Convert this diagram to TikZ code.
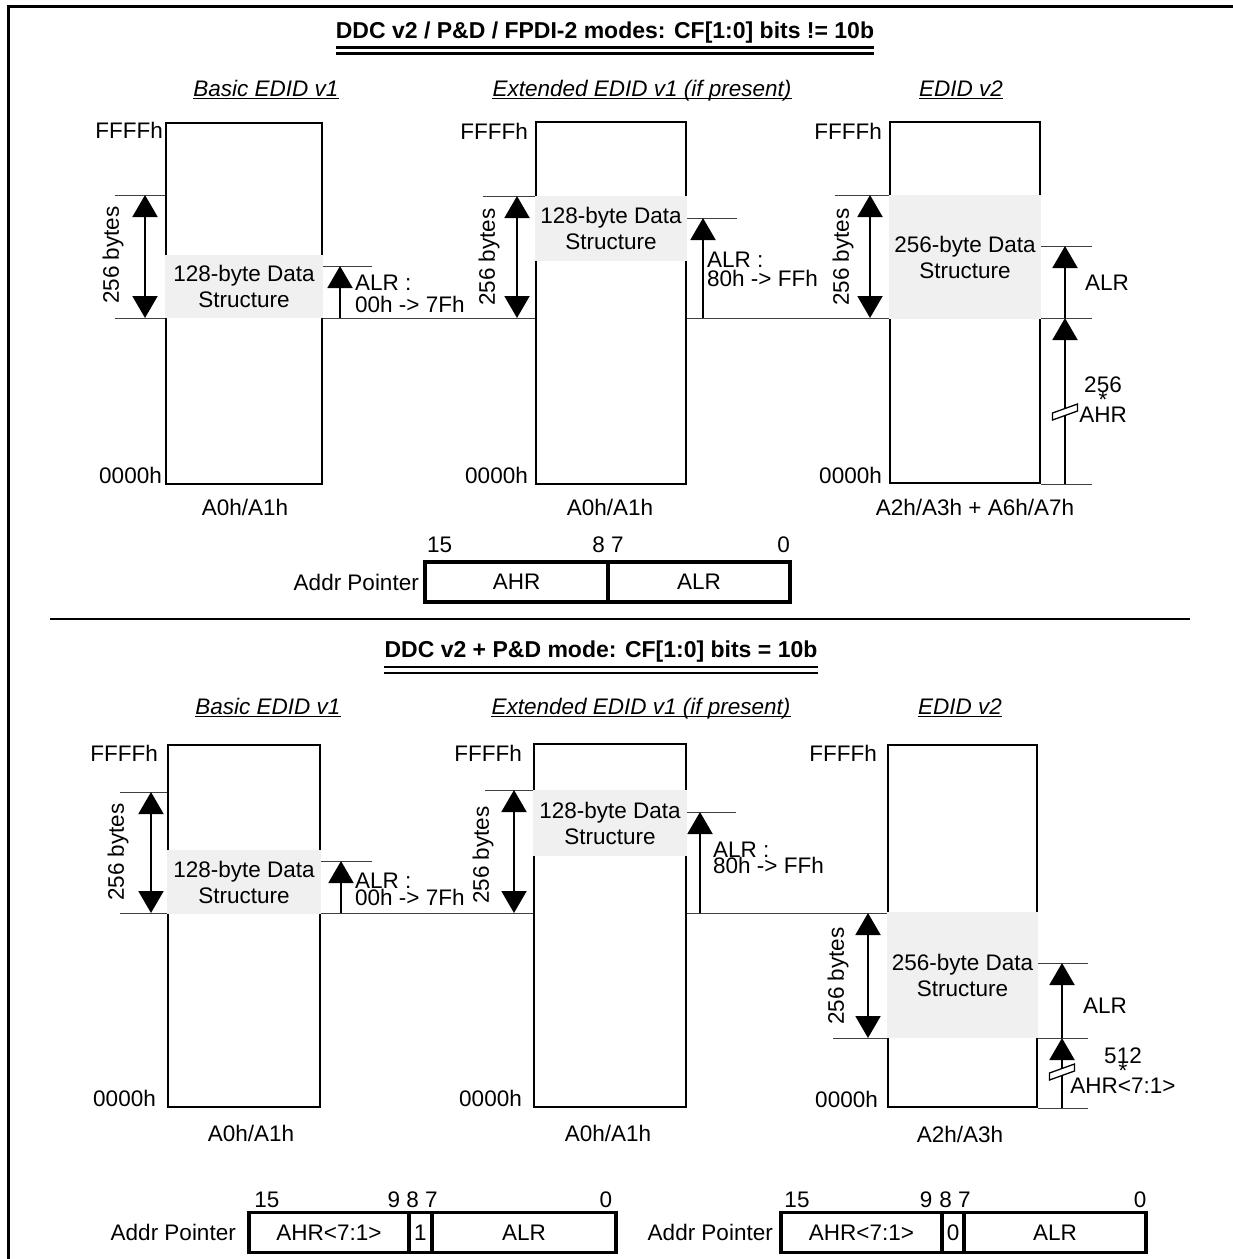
\documentclass[tikz,border=0pt]{standalone}
\usepackage{fontspec}
\setmainfont{Liberation Sans}
\usetikzlibrary{arrows.meta,calc}
\newcommand{\fsz}{\fontsize{22.5}{26}\selectfont}
\tikzset{
  frame/.style={line width=3pt},
  membox/.style={rectangle,draw,fill=white,line width=2.4pt,inner sep=0pt},
  datablk/.style={rectangle,fill=black!6,font=\fsz,align=center,inner sep=0pt},
  tick/.style={line width=1pt,draw=black!75},
  sizearr/.style={{Triangle[length=22pt,width=25pt]}-{Triangle[length=22pt,width=25pt]},line width=2pt},
  ptrarr/.style={-{Triangle[length=22pt,width=25pt]},line width=2pt},
  lbl/.style={font=\fsz,inner sep=0pt},
  ttl/.style={font=\fontsize{23}{26}\selectfont\bfseries,inner sep=0pt,anchor=base},
  subttl/.style={font=\fsz\itshape,inner sep=0pt,anchor=base},
  uline/.style={line width=1.4pt},
  dline/.style={line width=2.4pt},
  ptrcell/.style={rectangle,draw,line width=3.6pt,font=\fsz,inner sep=0pt,minimum height=40pt},
  brk/.style={rectangle,draw,fill=white,line width=1.3pt,minimum width=25pt,minimum height=7pt,inner sep=0pt,yslant=0.36,transform shape},
  sepline/.style={line width=2.4pt}
}

\begin{document}
\begin{tikzpicture}[x=1pt,y=-1pt]
  \useasboundingbox (0,0) rectangle (1233,1259);
  \clip (0,0) rectangle (1233,1259);
  \draw[frame] (1250,6) -- (8,6) -- (8,1270);

  % upper half: CF[1:0] != 10b
  \node[ttl] (ttlT) at (605,38) {DDC v2 / P\&D / FPDI-2 modes: CF[1:0] bits != 10b};
  \draw[dline] ($(ttlT.base west)+(0,9.5)$) -- ($(ttlT.base east)+(0,9.5)$);
  \draw[dline] ($(ttlT.base west)+(0,15.5)$) -- ($(ttlT.base east)+(0,15.5)$);
  \node[subttl] (subTA) at (266,96) {Basic EDID v1};
  \node[subttl] (subTB) at (642,96) {Extended EDID v1 (if present)};
  \node[subttl] (subTC) at (961,96) {EDID v2};
  \foreach \s in {subTA,subTB,subTC}
    \draw[uline] ($(\s.base west)+(0,2.5)$) -- ($(\s.base east)+(0,2.5)$);

  \draw[tick] (115,195) -- (165,195);
  \draw[tick] (115,318) -- (1092,318);
  \draw[tick] (323,266) -- (372,266);
  \draw[tick] (483,196) -- (535,196);
  \draw[tick] (687,218) -- (737,218);
  \draw[tick] (835,195) -- (889,195);
  \draw[tick] (1041,246) -- (1092,246);
  \draw[tick] (1041,484) -- (1092,484);

  \node[membox,minimum width=155.6,minimum height=360.6] (memTA) at (244,303.5) {};
  \node[membox,minimum width=149.6,minimum height=361.6] (memTB) at (611,303) {};
  \node[membox,minimum width=149.6,minimum height=360.6] (memTC) at (965,302.5) {};
  \node[datablk,minimum width=158,minimum height=63] (datTA) at (244,286.5) {128-byte Data\\Structure};
  \node[datablk,minimum width=152,minimum height=65] (datTB) at (611,228.5) {128-byte Data\\Structure};
  \node[datablk,minimum width=152,minimum height=124] (datTC) at (965,257) {256-byte Data\\Structure};

  \coordinate (szTA1) at (145,195); \coordinate (szTA2) at (145,318);
  \coordinate (szTB1) at (517,196); \coordinate (szTB2) at (517,318);
  \coordinate (szTC1) at (870,195); \coordinate (szTC2) at (870,318);
  \coordinate (alTA1) at (340,318); \coordinate (alTA2) at (340,266);
  \coordinate (alTB1) at (703,318); \coordinate (alTB2) at (703,218);
  \coordinate (alTC1) at (1065,318); \coordinate (alTC2) at (1065,246);
  \coordinate (ahTC1) at (1065,484);
  \draw[sizearr] (szTA1) -- (szTA2);
  \draw[sizearr] (szTB1) -- (szTB2);
  \draw[sizearr] (szTC1) -- (szTC2);
  \draw[ptrarr] (alTA1) -- (alTA2);
  \draw[ptrarr] (alTB1) -- (alTB2);
  \draw[ptrarr] (alTC1) -- (alTC2);
  \draw[ptrarr] (ahTC1) -- (alTC1);
  \node[brk] (brkT) at (1065,412) {};

  \node[lbl,rotate=90] (byTA) at (113,255) {256 bytes};
  \node[lbl,rotate=90] (byTB) at (489,257) {256 bytes};
  \node[lbl,rotate=90] (byTC) at (843,257) {256 bytes};
  \node[lbl,align=left,anchor=north west] (alrTA) at (355,275) {ALR :\\[-4pt]00h -> 7Fh};
  \node[lbl,align=left,anchor=north west] (alrTB) at (707,252) {ALR :\\[-7pt]80h -> FFh};
  \node[lbl] (alrTC) at (1107,283) {ALR};
  \node[lbl,align=center,anchor=north] (ahrTC) at (1103,377) {256\\[-11pt]{*}\\[-11pt]AHR};

  \node[lbl,anchor=north east] (hiTA) at (163,122) {FFFFh};
  \node[lbl,anchor=north east] (hiTB) at (528,123) {FFFFh};
  \node[lbl,anchor=north east] (hiTC) at (882,123) {FFFFh};
  \node[lbl,anchor=base east] (loTA) at (162,483) {0000h};
  \node[lbl,anchor=base east] (loTB) at (528,483) {0000h};
  \node[lbl,anchor=base east] (loTC) at (882,483) {0000h};
  \node[lbl,anchor=base] (bnkTA) at (245,515) {A0h/A1h};
  \node[lbl,anchor=base] (bnkTB) at (610,515) {A0h/A1h};
  \node[lbl,anchor=base] (bnkTC) at (975,515) {A2h/A3h + A6h/A7h};

  \node[lbl,anchor=east] (apT) at (419,582) {Addr Pointer};
  \node[ptrcell,minimum width=183] (ahrT) at (516.5,582) {AHR};
  \node[ptrcell,minimum width=182] (alrT) at (699,582) {ALR};
  \node[lbl,anchor=base west] (b15T) at (427,552) {15};
  \node[lbl,anchor=base] (b87T) at (608,552) {8 7};
  \node[lbl,anchor=base east] (b0T) at (790,552) {0};

  \draw[sepline] (50,619) -- (1190,619);

  % lower half: CF[1:0] = 10b
  \node[ttl] (ttlB) at (601,657.5) {DDC v2 + P\&D mode: CF[1:0] bits = 10b};
  \draw[dline] ($(ttlB.base west)+(0,9.5)$) -- ($(ttlB.base east)+(0,9.5)$);
  \draw[dline] ($(ttlB.base west)+(0,15.5)$) -- ($(ttlB.base east)+(0,15.5)$);
  \node[subttl] (subBA) at (268,714) {Basic EDID v1};
  \node[subttl] (subBB) at (641,714) {Extended EDID v1 (if present)};
  \node[subttl] (subBC) at (960,714) {EDID v2};
  \foreach \s in {subBA,subBB,subBC}
    \draw[uline] ($(\s.base west)+(0,2.5)$) -- ($(\s.base east)+(0,2.5)$);

  \draw[tick] (120,792) -- (167,792);
  \draw[tick] (120,913) -- (900,913);
  \draw[tick] (321,861) -- (372,861);
  \draw[tick] (485,790) -- (533,790);
  \draw[tick] (687,812) -- (736,812);
  \draw[tick] (833,1038) -- (1088,1038);
  \draw[tick] (1038,963) -- (1088,963);
  \draw[tick] (1038,1108) -- (1088,1108);

  \node[membox,minimum width=151.6,minimum height=361.6] (memBA) at (244,926) {};
  \node[membox,minimum width=151.6,minimum height=362.6] (memBB) at (610,925.5) {};
  \node[membox,minimum width=148.6,minimum height=361.6] (memBC) at (962.5,926) {};
  \node[datablk,minimum width=154,minimum height=64] (datBA) at (244,882) {128-byte Data\\Structure};
  \node[datablk,minimum width=154,minimum height=66] (datBB) at (610,823) {128-byte Data\\Structure};
  \node[datablk,minimum width=151,minimum height=126] (datBC) at (962.5,975) {256-byte Data\\Structure};

  \coordinate (szBA1) at (151,792); \coordinate (szBA2) at (151,913);
  \coordinate (szBB1) at (514,790); \coordinate (szBB2) at (514,913);
  \coordinate (szBC1) at (868,913); \coordinate (szBC2) at (868,1038);
  \coordinate (alBA1) at (341,913); \coordinate (alBA2) at (341,861);
  \coordinate (alBB1) at (700,913); \coordinate (alBB2) at (700,812);
  \coordinate (alBC1) at (1062,1038); \coordinate (alBC2) at (1062,963);
  \coordinate (ahBC1) at (1062,1108);
  \draw[sizearr] (szBA1) -- (szBA2);
  \draw[sizearr] (szBB1) -- (szBB2);
  \draw[sizearr] (szBC1) -- (szBC2);
  \draw[ptrarr] (alBA1) -- (alBA2);
  \draw[ptrarr] (alBB1) -- (alBB2);
  \draw[ptrarr] (alBC1) -- (alBC2);
  \draw[ptrarr] (ahBC1) -- (alBC1);
  \node[brk] (brkB) at (1062,1072) {};

  \node[lbl,rotate=90] (byBA) at (118,852) {256 bytes};
  \node[lbl,rotate=90] (byBB) at (483,855) {256 bytes};
  \node[lbl,rotate=90] (byBC) at (838,976) {256 bytes};
  \node[lbl,align=left,anchor=north west] (alrBA) at (355,873) {ALR :\\[-9pt]00h -> 7Fh};
  \node[lbl,align=left,anchor=north west] (alrBB) at (713,842) {ALR :\\[-10pt]80h -> FFh};
  \node[lbl] (alrBC) at (1105,1006) {ALR};
  \node[lbl,align=center,anchor=north] (ahrBC) at (1123,1048) {512\\[-11pt]{*}\\[-11pt]AHR<7:1>};

  \node[lbl,anchor=north east] (hiBA) at (158,745) {FFFFh};
  \node[lbl,anchor=north east] (hiBB) at (522,745) {FFFFh};
  \node[lbl,anchor=north east] (hiBC) at (877,745) {FFFFh};
  \node[lbl,anchor=base east] (loBA) at (156,1106) {0000h};
  \node[lbl,anchor=base east] (loBB) at (522,1106) {0000h};
  \node[lbl,anchor=base east] (loBC) at (878,1107) {0000h};
  \node[lbl,anchor=base] (bnkBA) at (251,1141) {A0h/A1h};
  \node[lbl,anchor=base] (bnkBB) at (608,1141) {A0h/A1h};
  \node[lbl,anchor=base] (bnkBC) at (960,1142) {A2h/A3h};

  \node[lbl,anchor=east] (apB1) at (236,1232) {Addr Pointer};
  \node[ptrcell,minimum width=160] (ahrB1) at (329,1232.5) {AHR<7:1>};
  \node[ptrcell,minimum width=23] (bitB1) at (420.5,1232.5) {1};
  \node[ptrcell,minimum width=184] (alrB1) at (524,1232.5) {ALR};
  \node[lbl,anchor=base] (b15B1) at (267,1207) {15};
  \node[lbl,anchor=base] (b9B1) at (394,1207) {9};
  \node[lbl,anchor=base] (b87B1) at (422,1207) {8 7};
  \node[lbl,anchor=base] (b0B1) at (606,1207) {0};

  \node[lbl,anchor=east] (apB2) at (773,1232) {Addr Pointer};
  \node[ptrcell,minimum width=161] (ahrB2) at (861.5,1232.5) {AHR<7:1>};
  \node[ptrcell,minimum width=22] (bitB2) at (953,1232.5) {0};
  \node[ptrcell,minimum width=182] (alrB2) at (1055,1232.5) {ALR};
  \node[lbl,anchor=base] (b15B2) at (797,1207) {15};
  \node[lbl,anchor=base] (b9B2) at (926,1207) {9};
  \node[lbl,anchor=base] (b87B2) at (955,1207) {8 7};
  \node[lbl,anchor=base] (b0B2) at (1140,1207) {0};
\end{tikzpicture}
\end{document}
